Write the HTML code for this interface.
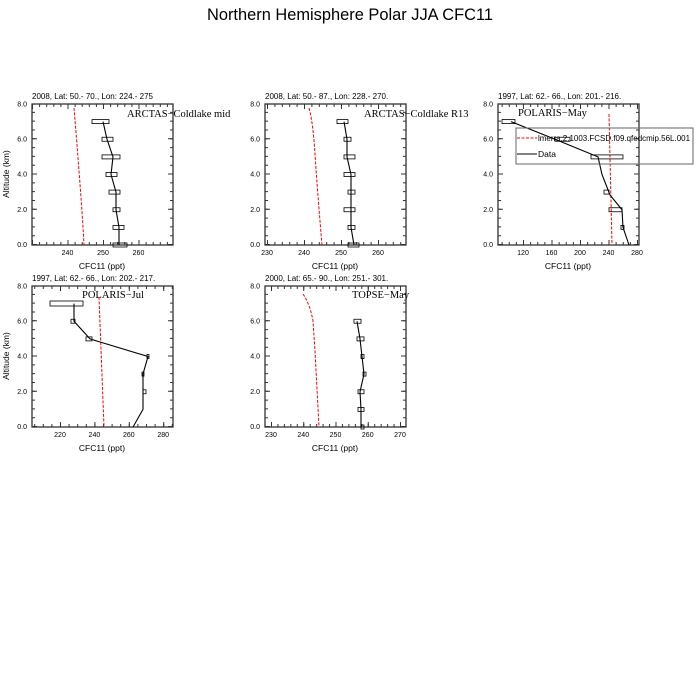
<!DOCTYPE html>
<html><head><meta charset="utf-8"><style>
html,body{margin:0;padding:0;background:#fff;}
svg{display:block;font-family:"Liberation Sans",sans-serif;}
.ax{fill:none;stroke:#333;stroke-width:1.3}
.tk{stroke:#333;fill:none}
.sub{font-size:8px;fill:#000}
.tl{font-size:7px;fill:#000}
.xl{font-size:8.5px;fill:#000;text-anchor:middle}
.pt{font-family:"Liberation Serif",serif;font-size:10.5px;fill:#000}
.red{fill:none;stroke:#f00;stroke-width:1;stroke-dasharray:3 1.5}
.blk{fill:none;stroke:#000;stroke-width:1.1}
.bx{fill:none;stroke:#000;stroke-width:0.8}
</style></head><body>
<svg width="700" height="700" viewBox="0 0 700 700">
<rect width="700" height="700" fill="#fff"/>
<text x="350" y="20" font-size="17" text-anchor="middle" textLength="286" lengthAdjust="spacingAndGlyphs">Northern Hemisphere Polar JJA CFC11</text>

<defs>
<g id="yt">
<line class="tk" x1="1.5" y1="141" x2="1.5" y2="0" stroke-width="3" stroke-dasharray="1 7.8125"/>
<line class="tk" x1="2.5" y1="141" x2="2.5" y2="0" stroke-width="5" stroke-dasharray="1 34.25"/>
<line class="tk" x1="139.5" y1="141" x2="139.5" y2="0" stroke-width="3" stroke-dasharray="1 7.8125"/>
<line class="tk" x1="138.5" y1="141" x2="138.5" y2="0" stroke-width="5" stroke-dasharray="1 34.25"/>
<text class="tl" x="-5" y="143" text-anchor="end">0.0</text>
<text class="tl" x="-5" y="108" text-anchor="end">2.0</text>
<text class="tl" x="-5" y="72.5" text-anchor="end">4.0</text>
<text class="tl" x="-5" y="37.5" text-anchor="end">6.0</text>
<text class="tl" x="-5" y="2.5" text-anchor="end">8.0</text>
<rect class="ax" x="0" y="0" width="141" height="141"/>
</g>
</defs>

<!-- Panel 1 -->
<g transform="translate(32,104)">
<use href="#yt"/>
<g class="tk">
<line x1="0" y1="139.5" x2="141" y2="139.5" stroke-width="3" stroke-dasharray="1 6.1"/>
<line x1="0" y1="138.5" x2="141" y2="138.5" stroke-width="5" stroke-dasharray="1 34.5"/>
<line x1="0" y1="1.5" x2="141" y2="1.5" stroke-width="3" stroke-dasharray="1 6.1"/>
<line x1="0" y1="2.5" x2="141" y2="2.5" stroke-width="5" stroke-dasharray="1 34.5"/>
</g>
<text class="tl" x="35.5" y="151" text-anchor="middle">240</text>
<text class="tl" x="71" y="151" text-anchor="middle">250</text>
<text class="tl" x="106.5" y="151" text-anchor="middle">260</text>
<text class="sub" x="0" y="-5">2008, Lat:  50.- 70., Lon: 224.- 275</text>
<text class="xl" x="70" y="165">CFC11 (ppt)</text>
<text class="pt" x="95" y="13">ARCTAS−Coldlake mid</text>
<path class="red" d="M42,4 Q45,40 48,80 T52,141"/>
<polyline class="blk" points="71,17.6 75,35.25 81,52.9 79,70.5 84,88.1 84,105.75 87,123.4 87,141"/>
<g class="bx">
<rect x="60" y="15.6" width="17" height="4"/><rect x="70" y="33.25" width="11" height="4"/>
<rect x="70" y="50.9" width="18" height="4"/><rect x="74" y="68.5" width="11" height="4"/>
<rect x="77" y="86.1" width="11" height="4"/><rect x="81" y="103.75" width="7" height="4"/>
<rect x="81" y="121.4" width="11" height="4"/><rect x="81" y="139" width="14" height="4"/>
</g>
</g>

<!-- Panel 2 -->
<g transform="translate(265,104)">
<use href="#yt"/>
<g class="tk">
<line x1="0" y1="139.5" x2="141" y2="139.5" stroke-width="3" stroke-dasharray="1 6.4" stroke-dashoffset="5.4"/>
<line x1="0" y1="138.5" x2="141" y2="138.5" stroke-width="5" stroke-dasharray="1 36" stroke-dashoffset="35"/>
<line x1="0" y1="1.5" x2="141" y2="1.5" stroke-width="3" stroke-dasharray="1 6.4" stroke-dashoffset="5.4"/>
<line x1="0" y1="2.5" x2="141" y2="2.5" stroke-width="5" stroke-dasharray="1 36" stroke-dashoffset="35"/>
</g>
<text class="tl" x="2" y="151" text-anchor="middle">230</text>
<text class="tl" x="39" y="151" text-anchor="middle">240</text>
<text class="tl" x="76" y="151" text-anchor="middle">250</text>
<text class="tl" x="113" y="151" text-anchor="middle">260</text>
<text class="sub" x="0" y="-5">2008, Lat:  50.- 87., Lon: 228.- 270.</text>
<text class="xl" x="70" y="165">CFC11 (ppt)</text>
<text class="pt" x="99" y="13">ARCTAS−Coldlake R13</text>
<path class="red" d="M44,4 Q48,18 50,50 T57,141"/>
<polyline class="blk" points="79,17.6 82,35.25 82,52.9 86,70.5 86,88.1 86,105.75 86,123.4 89,141"/>
<g class="bx">
<rect x="72" y="15.6" width="11" height="4"/><rect x="79" y="33.25" width="7" height="4"/>
<rect x="79" y="50.9" width="11" height="4"/><rect x="79" y="68.5" width="11" height="4"/>
<rect x="83" y="86.1" width="7" height="4"/><rect x="79" y="103.75" width="11" height="4"/>
<rect x="83" y="121.4" width="7" height="4"/><rect x="83" y="139" width="11" height="4"/>
</g>
</g>

<!-- Panel 3 -->
<g transform="translate(498,104)">
<use href="#yt"/>
<g class="tk">
<line x1="0" y1="139.5" x2="141" y2="139.5" stroke-width="3" stroke-dasharray="1 6.125" stroke-dashoffset="3.5"/>
<line x1="0" y1="138.5" x2="141" y2="138.5" stroke-width="5" stroke-dasharray="1 27.5" stroke-dashoffset="3.5"/>
<line x1="0" y1="1.5" x2="141" y2="1.5" stroke-width="3" stroke-dasharray="1 6.125" stroke-dashoffset="3.5"/>
<line x1="0" y1="2.5" x2="141" y2="2.5" stroke-width="5" stroke-dasharray="1 27.5" stroke-dashoffset="3.5"/>
</g>
<text class="tl" x="25" y="151" text-anchor="middle">120</text>
<text class="tl" x="53.5" y="151" text-anchor="middle">160</text>
<text class="tl" x="82" y="151" text-anchor="middle">200</text>
<text class="tl" x="110.5" y="151" text-anchor="middle">240</text>
<text class="tl" x="139" y="151" text-anchor="middle">280</text>
<text class="sub" x="0" y="-5">1997, Lat: 62.- 66., Lon: 201.- 216.</text>
<text class="xl" x="70" y="165">CFC11 (ppt)</text>
<text class="pt" x="20" y="12">POLARIS−May</text>
<line class="red" x1="111" y1="10" x2="114" y2="141"/>
<polyline class="blk" points="13,17.6 57,35.25 100,52.9 104,70.5 112,91 124,105.75 125,123.4 131,141"/>
<g class="bx">
<rect x="4" y="15.6" width="13" height="4"/><rect x="57" y="33.25" width="15" height="4"/>
<rect x="93" y="50.9" width="32" height="4"/><rect x="106" y="86.1" width="5" height="4"/>
<rect x="111" y="103.75" width="13" height="4"/><rect x="123" y="121.4" width="3" height="4"/>
</g>
</g>
<rect x="516" y="128" width="177" height="36" fill="none" stroke="#666" stroke-width="1"/>
<line class="red" x1="517" y1="138" x2="537" y2="138"/>
<line class="blk" x1="517" y1="154" x2="537" y2="154"/>
<text x="538" y="141" font-size="8.5" textLength="152" lengthAdjust="spacingAndGlyphs">lmerra.2.1003.FCSD.f09.qfedcmip.56L.001</text>
<text x="538" y="157" font-size="8.5">Data</text>

<!-- Panel 4 -->
<g transform="translate(32,286)">
<use href="#yt"/>
<g class="tk">
<line x1="0" y1="139.5" x2="141" y2="139.5" stroke-width="3" stroke-dasharray="1 7.6" stroke-dashoffset="6.4"/>
<line x1="0" y1="138.5" x2="141" y2="138.5" stroke-width="5" stroke-dasharray="1 33.4" stroke-dashoffset="6.4"/>
<line x1="0" y1="1.5" x2="141" y2="1.5" stroke-width="3" stroke-dasharray="1 7.6" stroke-dashoffset="6.4"/>
<line x1="0" y1="2.5" x2="141" y2="2.5" stroke-width="5" stroke-dasharray="1 33.4" stroke-dashoffset="6.4"/>
</g>
<text class="tl" x="28" y="151" text-anchor="middle">220</text>
<text class="tl" x="62.4" y="151" text-anchor="middle">240</text>
<text class="tl" x="96.8" y="151" text-anchor="middle">260</text>
<text class="tl" x="131.2" y="151" text-anchor="middle">280</text>
<text class="sub" x="0" y="-5">1997, Lat: 62.- 66., Lon: 202.- 217.</text>
<text class="xl" x="70" y="165">CFC11 (ppt)</text>
<text class="pt" x="50" y="12">POLARIS−Jul</text>
<line class="red" x1="67" y1="11" x2="72" y2="141"/>
<polyline class="blk" points="42,17.6 42,35.25 58,52.9 68,56 116,70.5 111,88 111,105.75 111,123.4 101,141"/>
<g class="bx">
<rect x="18" y="15" width="33" height="5"/><rect x="39" y="33.25" width="4" height="4"/>
<rect x="54" y="50.9" width="6" height="4"/><rect x="115" y="68.5" width="2" height="4"/>
<rect x="110" y="86.1" width="2" height="4"/><rect x="111" y="103.75" width="3" height="4"/>
</g>
</g>

<!-- Panel 5 -->
<g transform="translate(265,286)">
<use href="#yt"/>
<g class="tk">
<line x1="0" y1="139.5" x2="141" y2="139.5" stroke-width="3" stroke-dasharray="1 5.45" stroke-dashoffset="0.45"/>
<line x1="0" y1="138.5" x2="141" y2="138.5" stroke-width="5" stroke-dasharray="1 31.25" stroke-dashoffset="26.25"/>
<line x1="0" y1="1.5" x2="141" y2="1.5" stroke-width="3" stroke-dasharray="1 5.45" stroke-dashoffset="0.45"/>
<line x1="0" y1="2.5" x2="141" y2="2.5" stroke-width="5" stroke-dasharray="1 31.25" stroke-dashoffset="26.25"/>
</g>
<text class="tl" x="6" y="151" text-anchor="middle">230</text>
<text class="tl" x="38.25" y="151" text-anchor="middle">240</text>
<text class="tl" x="70.5" y="151" text-anchor="middle">250</text>
<text class="tl" x="102.75" y="151" text-anchor="middle">260</text>
<text class="tl" x="135" y="151" text-anchor="middle">270</text>
<text class="sub" x="0" y="-5">2000, Lat: 65.- 90., Lon: 251.- 301.</text>
<text class="xl" x="70" y="165">CFC11 (ppt)</text>
<text class="pt" x="87" y="12">TOPSE−May</text>
<path class="red" d="M38,8 Q45,18 48,35 L50,65 L54,141"/>
<polyline class="blk" points="92,35.25 95,52.9 97,70.5 99,88.1 95,105.75 96,123.4 96,141"/>
<g class="bx">
<rect x="89" y="33.25" width="7" height="4"/><rect x="92" y="50.9" width="7" height="4"/>
<rect x="96" y="68.5" width="3" height="4"/><rect x="98" y="86.1" width="3" height="4"/>
<rect x="93" y="103.75" width="6" height="4"/><rect x="93" y="121.4" width="6" height="4"/>
<rect x="96" y="139" width="3" height="4"/>
</g>
</g>

<text transform="translate(9,174) rotate(-90)" font-size="8.5" text-anchor="middle">Altitude (km)</text>
<text transform="translate(9,356) rotate(-90)" font-size="8.5" text-anchor="middle">Altitude (km)</text>
</svg>
</body></html>
